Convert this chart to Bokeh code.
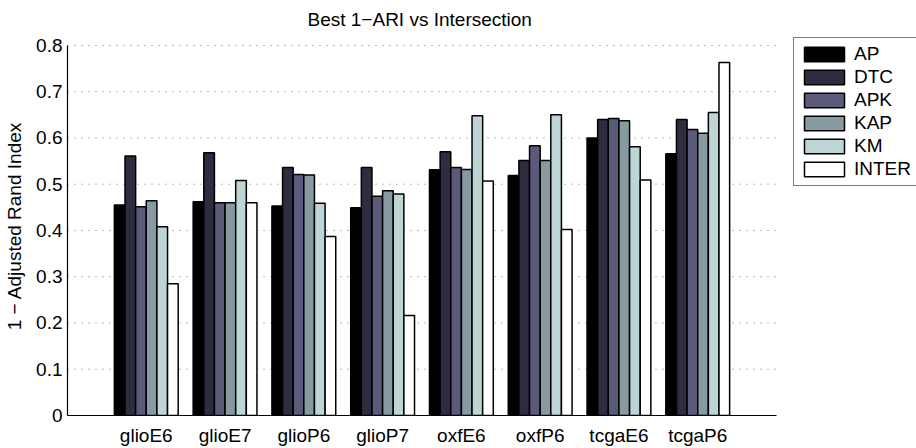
from bokeh.plotting import figure
from bokeh.models import Legend, LegendItem, FixedTicker, Range1d, ColumnDataSource, Title
from bokeh.embed import file_html
from bokeh.resources import INLINE

# Benchmark datasets and clustering methods
datasets = ["glioE6", "glioE7", "glioP6", "glioP7", "oxfE6", "oxfP6", "tcgaE6", "tcgaP6"]
methods = ["AP", "DTC", "APK", "KAP", "KM", "INTER"]

# Best 1-ARI per dataset for each method
ap    = [0.455, 0.462, 0.453, 0.449, 0.531, 0.519, 0.600, 0.566]
dtc   = [0.561, 0.568, 0.536, 0.536, 0.570, 0.551, 0.640, 0.640]
apk   = [0.451, 0.460, 0.521, 0.474, 0.536, 0.583, 0.642, 0.618]
kap   = [0.464, 0.460, 0.520, 0.486, 0.532, 0.551, 0.637, 0.610]
km    = [0.408, 0.508, 0.459, 0.479, 0.648, 0.650, 0.581, 0.655]
inter = [0.285, 0.460, 0.387, 0.216, 0.507, 0.402, 0.509, 0.763]

y_ticks = [0, 0.1, 0.2, 0.3, 0.4, 0.5, 0.6, 0.7, 0.8]

series = [ap, dtc, apk, kap, km, inter]
colors = ["#000000", "#2e2c3f", "#5c5a7b", "#8799a1", "#bdd5d5", "#ffffff"]

FONT = "Liberation Sans"
FS = "19px"

W, H = 916, 448
LEFT, BOTTOM, TOP = 67, 31, 34
AXIS_W, AXIS_H = 709, 374       # pixel size of the drawn axes box
AXIS_TOP = 43                   # canvas y of the 0.8 line
x_end = len(datasets) + 1       # axes box spans 0 .. 9
y_end = 0.8

# frame is larger than the axes box so the legend can live inside it
frame_w = W - LEFT
frame_h = H - BOTTOM - TOP
x_range = Range1d(0, x_end * frame_w / AXIS_W)
y_range = Range1d(0, y_end * frame_h / AXIS_H)

p = figure(width=W, height=H, output_backend="svg", toolbar_location=None,
           x_range=x_range, y_range=y_range,
           min_border_left=LEFT, min_border_right=0, min_border_top=TOP,
           min_border_bottom=BOTTOM)

p.title = Title(text="Best 1\u2212ARI vs Intersection", align="left",
                text_font=FONT, text_font_size=FS, text_font_style="normal",
                text_color="#000000", standoff=13, offset=240)

p.outline_line_color = None
p.background_fill_color = "white"
p.border_fill_color = "white"
p.xgrid.grid_line_color = None
p.ygrid.grid_line_color = None

# dotted horizontal grid lines across the axes box
grid_y = [t for t in y_ticks if t > 0]
p.segment(x0=[0] * len(grid_y), x1=[x_end] * len(grid_y), y0=grid_y, y1=grid_y,
          line_color="#777777", line_dash="1 6", line_width=1)

# grouped bars
bar_w = 0.135
n = len(methods)
items = []
for i, (name, vals, col) in enumerate(zip(methods, series, colors)):
    off = (i - (n - 1) / 2) * bar_w
    src = ColumnDataSource(dict(x=[k + 1 + off for k in range(len(datasets))], top=vals))
    r = p.vbar(x="x", top="top", bottom=0, width=bar_w, source=src,
               fill_color=col, line_color="#000000", line_width=1.5)
    items.append(LegendItem(label=name, renderers=[r]))

# axes
p.xaxis.ticker = FixedTicker(ticks=[k + 1 for k in range(len(datasets))])
p.xaxis.major_label_overrides = {k + 1: d for k, d in enumerate(datasets)}
p.xaxis.bounds = (0, x_end)
p.yaxis.ticker = FixedTicker(ticks=y_ticks)
p.yaxis.major_label_overrides = {t: ("0" if t == 0 else f"{t:.1f}") for t in y_ticks}
p.yaxis.bounds = (0, y_end)
for ax in (p.xaxis, p.yaxis):
    ax.axis_line_color = "#000000"
    ax.axis_line_width = 1.2
    ax.major_tick_in = 0
    ax.major_tick_out = 0
    ax.minor_tick_in = 0
    ax.minor_tick_out = 0
    ax.major_label_text_font = FONT
    ax.major_label_text_font_size = FS
    ax.major_label_text_color = "#000000"
p.xaxis.major_label_standoff = 9
p.yaxis.major_label_standoff = 5
p.yaxis.axis_label = "1 \u2212 Adjusted Rand Index"
p.yaxis.axis_label_text_font = FONT
p.yaxis.axis_label_text_font_size = FS
p.yaxis.axis_label_text_font_style = "normal"
p.yaxis.axis_label_text_color = "#000000"
p.yaxis.axis_label_standoff = 8

legend = Legend(items=items, location=(AXIS_W + 17, AXIS_H - (188 - AXIS_TOP)),
                label_text_font=FONT, label_text_font_size=FS,
                label_text_color="#000000",
                glyph_width=50, glyph_height=18, label_standoff=5,
                label_height=18, spacing=1, padding=5, margin=0,
                border_line_color="#000000", border_line_width=1,
                background_fill_color="white", background_fill_alpha=1)
p.add_layout(legend, "center")

open("out.html", "w").write(file_html(p, INLINE))
